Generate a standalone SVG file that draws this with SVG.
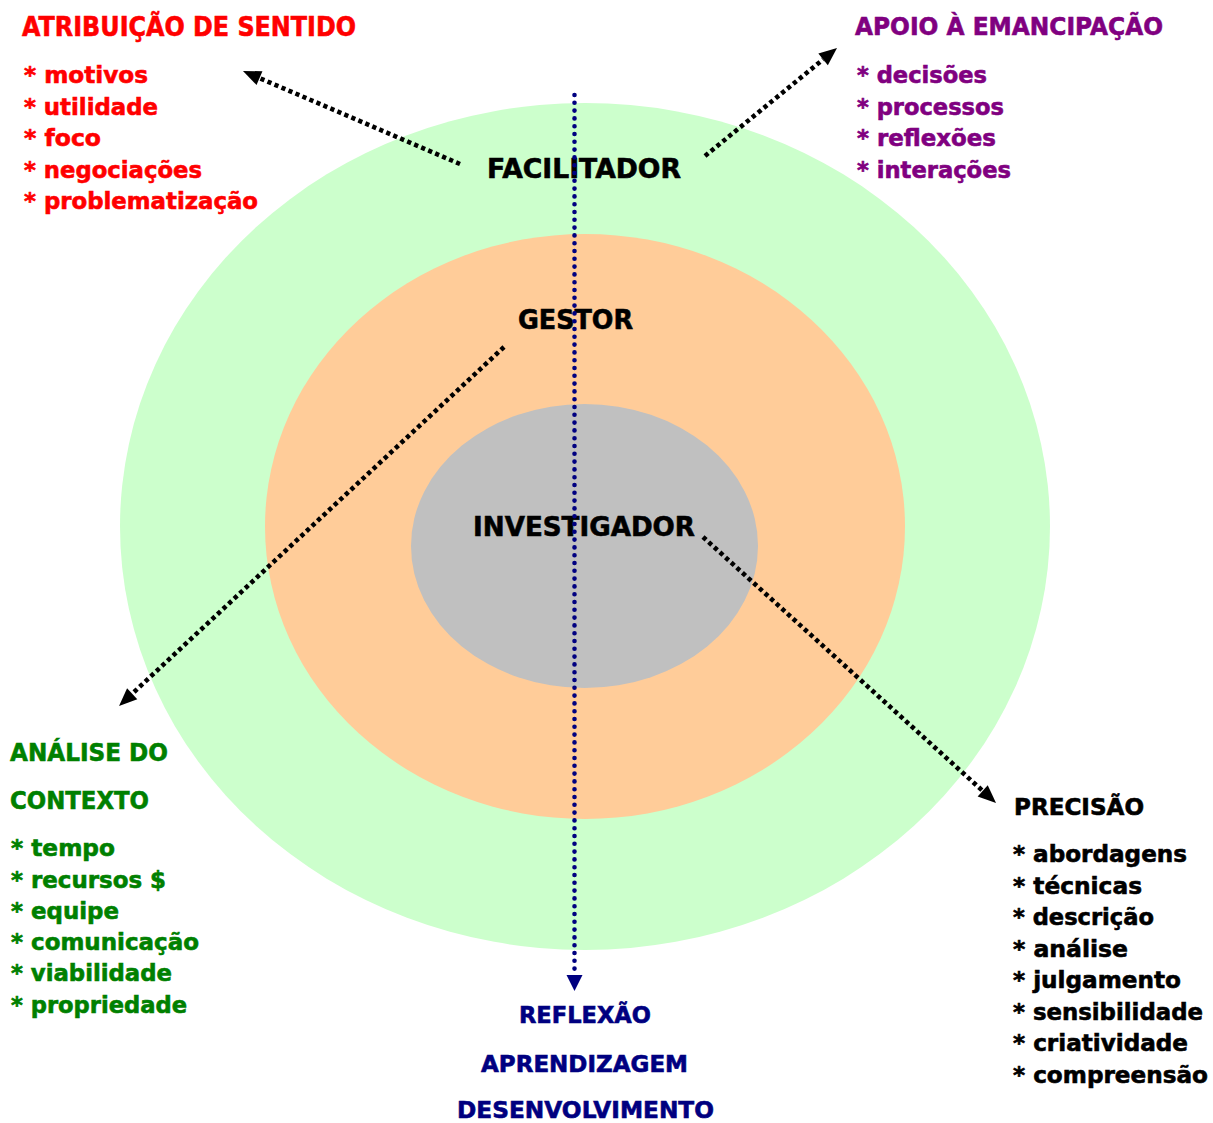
<svg xmlns="http://www.w3.org/2000/svg" width="1213" height="1123" viewBox="0 0 1213 1123">
<defs>
<style>
text{font-family:"DejaVu Sans","Verdana","Liberation Sans",sans-serif;font-weight:bold;stroke-width:0.6px}
.h26{font-size:26px}.h27{font-size:27px}.h25{font-size:25px}.h23{font-size:23px}.it{font-size:23px}
.red{fill:#FF0000;stroke:#FF0000}.pur{fill:#800080;stroke:#800080}.grn{fill:#008000;stroke:#008000}.blk{fill:#000000;stroke:#000000}.nav{fill:#000080;stroke:#000080}
.dash{fill:none;stroke:#000;stroke-width:4.6;stroke-dasharray:4.2 3.4;marker-end:url(#ah)}
.blue{fill:none;stroke:#000080;stroke-width:4.6;stroke-linecap:round;stroke-dasharray:0 7.8;marker-end:url(#bh)}
</style>
<marker id="ah" markerUnits="userSpaceOnUse" markerWidth="20" markerHeight="16" refX="0" refY="7.5" orient="auto" overflow="visible">
<path d="M0,0 L18,7.5 L0,15 z" fill="#000"/>
</marker>
<marker id="bh" markerUnits="userSpaceOnUse" markerWidth="18" markerHeight="18" refX="0" refY="8" orient="auto" overflow="visible">
<path d="M0,0 L16,8 L0,16 z" fill="#000080"/>
</marker>
</defs>
<rect width="1213" height="1123" fill="#FFFFFF"/>
<g id="facilitador">
<ellipse cx="585" cy="526.5" rx="465" ry="423.5" fill="#CCFFCC"/>
<text class="h27 blk" x="487" y="177.5" textLength="194" lengthAdjust="spacingAndGlyphs">FACILITADOR</text>
</g>
<g id="gestor">
<ellipse cx="585" cy="526.5" rx="320" ry="292.5" fill="#FFCC99"/>
<text class="h27 blk" x="518" y="329" textLength="115" lengthAdjust="spacingAndGlyphs">GESTOR</text>
</g>
<g id="investigador">
<ellipse cx="584.5" cy="546" rx="173.5" ry="142" fill="#C0C0C0"/>
<text class="h27 blk" x="473" y="536" textLength="222" lengthAdjust="spacingAndGlyphs">INVESTIGADOR</text>
</g>
<g id="atribuicao">
<text class="h26 red" x="22" y="36" textLength="334" lengthAdjust="spacingAndGlyphs">ATRIBUIÇÃO DE SENTIDO</text>
<text class="it red" x="24" y="83" textLength="124" lengthAdjust="spacingAndGlyphs">* motivos</text>
<text class="it red" x="24" y="114.5" textLength="134" lengthAdjust="spacingAndGlyphs">* utilidade</text>
<text class="it red" x="24" y="146" textLength="77" lengthAdjust="spacingAndGlyphs">* foco</text>
<text class="it red" x="24" y="177.5" textLength="178" lengthAdjust="spacingAndGlyphs">* negociações</text>
<text class="it red" x="24" y="209" textLength="234" lengthAdjust="spacingAndGlyphs">* problematização</text>
</g>
<g id="apoio">
<text class="h25 pur" x="855" y="35" textLength="308" lengthAdjust="spacingAndGlyphs">APOIO À EMANCIPAÇÃO</text>
<text class="it pur" x="857" y="83" textLength="130" lengthAdjust="spacingAndGlyphs">* decisões</text>
<text class="it pur" x="857" y="114.5" textLength="147" lengthAdjust="spacingAndGlyphs">* processos</text>
<text class="it pur" x="857" y="146" textLength="139" lengthAdjust="spacingAndGlyphs">* reflexões</text>
<text class="it pur" x="857" y="177.5" textLength="154" lengthAdjust="spacingAndGlyphs">* interações</text>
</g>
<g id="analise">
<text class="h25 grn" x="10" y="761" textLength="158" lengthAdjust="spacingAndGlyphs">ANÁLISE DO</text>
<text class="h25 grn" x="10" y="809" textLength="139" lengthAdjust="spacingAndGlyphs">CONTEXTO</text>
<text class="it grn" x="11" y="856" textLength="104" lengthAdjust="spacingAndGlyphs">* tempo</text>
<text class="it grn" x="11" y="887.5" textLength="155" lengthAdjust="spacingAndGlyphs">* recursos $</text>
<text class="it grn" x="11" y="918.5" textLength="108" lengthAdjust="spacingAndGlyphs">* equipe</text>
<text class="it grn" x="11" y="949.5" textLength="188" lengthAdjust="spacingAndGlyphs">* comunicação</text>
<text class="it grn" x="11" y="981" textLength="161" lengthAdjust="spacingAndGlyphs">* viabilidade</text>
<text class="it grn" x="11" y="1012.5" textLength="176" lengthAdjust="spacingAndGlyphs">* propriedade</text>
</g>
<g id="precisao">
<text class="h23 blk" x="1014" y="815" textLength="130" lengthAdjust="spacingAndGlyphs">PRECISÃO</text>
<text class="it blk" x="1013" y="862" textLength="174" lengthAdjust="spacingAndGlyphs">* abordagens</text>
<text class="it blk" x="1013" y="893.5" textLength="129" lengthAdjust="spacingAndGlyphs">* técnicas</text>
<text class="it blk" x="1013" y="925" textLength="141" lengthAdjust="spacingAndGlyphs">* descrição</text>
<text class="it blk" x="1013" y="956.5" textLength="115" lengthAdjust="spacingAndGlyphs">* análise</text>
<text class="it blk" x="1013" y="988" textLength="168" lengthAdjust="spacingAndGlyphs">* julgamento</text>
<text class="it blk" x="1013" y="1019.5" textLength="190" lengthAdjust="spacingAndGlyphs">* sensibilidade</text>
<text class="it blk" x="1013" y="1051" textLength="175" lengthAdjust="spacingAndGlyphs">* criatividade</text>
<text class="it blk" x="1013" y="1082.5" textLength="195" lengthAdjust="spacingAndGlyphs">* compreensão</text>
</g>
<g id="reflexao">
<text class="h23 nav" x="519" y="1023" textLength="132" lengthAdjust="spacingAndGlyphs">REFLEXÃO</text>
<text class="h23 nav" x="481" y="1072" textLength="207" lengthAdjust="spacingAndGlyphs">APRENDIZAGEM</text>
<text class="h23 nav" x="457" y="1118" textLength="257" lengthAdjust="spacingAndGlyphs">DESENVOLVIMENTO</text>
</g>
<g id="connectors">
<line class="dash" x1="460" y1="164" x2="259.5" y2="78.1"/>
<line class="dash" x1="705" y1="156" x2="823.1" y2="59.4"/>
<line class="dash" x1="504" y1="347" x2="132.2" y2="693.7"/>
<line class="dash" x1="703" y1="537" x2="982.7" y2="790.9"/>
<line class="blue" x1="574.5" y1="95" x2="574.5" y2="975"/>
</g>
</svg>
